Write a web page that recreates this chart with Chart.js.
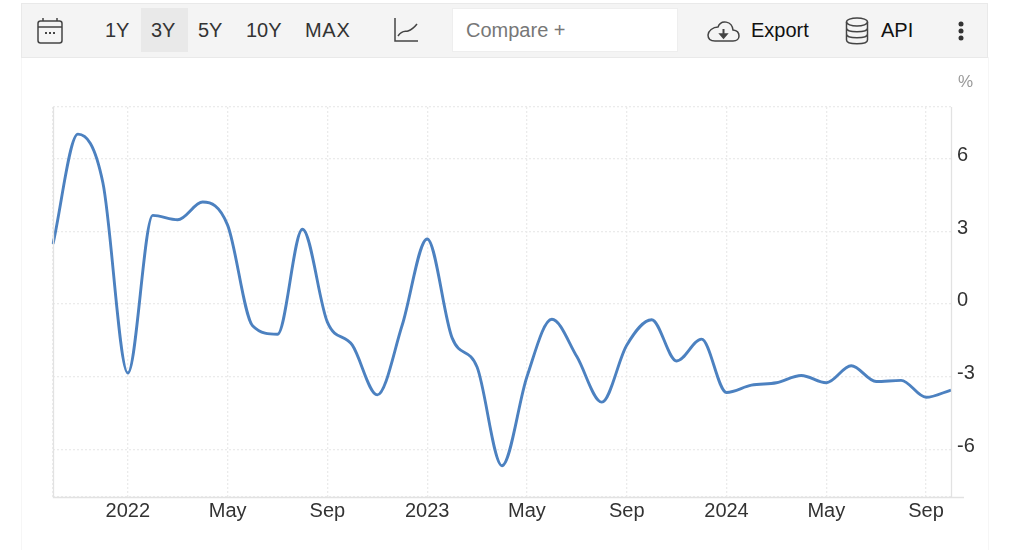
<!DOCTYPE html>
<html><head><meta charset="utf-8">
<script src="https://cdn.jsdelivr.net/npm/chart.js@4"></script>
<style>
html,body{margin:0;padding:0;background:#fff;width:1024px;height:550px;overflow:hidden;font-family:"Liberation Sans",Arial,sans-serif}
#c{position:absolute;left:0;top:0}
.frame{position:absolute;top:57px;height:493px;width:1px;background:#f6f6f6}
#bar{position:absolute;left:21px;top:3px;width:967px;height:55px;background:#f4f4f4;border:1px solid #e9e9e9;box-sizing:border-box}
.t{position:absolute;top:30px;transform:translateY(-50%);font-size:20px;color:#333;line-height:1;white-space:nowrap}
#sel{position:absolute;left:141px;top:8px;width:47px;height:44px;background:#e9e9e9}
#cmp{position:absolute;left:452px;top:8px;width:226px;height:44px;background:#fff;border:1px solid #eee;box-sizing:border-box}
svg{position:absolute;fill:none;stroke:#444;stroke-width:1.5}
#pct{position:absolute;left:958px;top:72px;font-size:17px;color:#999}
</style></head><body>
<canvas id="c" width="1024" height="550"></canvas>
<div class="frame" style="left:21px"></div><div class="frame" style="left:988px"></div>
<div id="bar"></div><div id="sel"></div><div id="cmp"></div>
<svg style="left:37px;top:17px" width="26" height="28" viewBox="0 0 26 28"><rect x="1" y="4" width="24" height="22" rx="2.5"/><path d="M1 10H25M6 1V4M20 1V4"/><path d="M8 16h2M12 16h2M16 16h2" stroke-width="2"/></svg>
<div class="t" style="left:105px">1Y</div><div class="t" style="left:151px">3Y</div><div class="t" style="left:198px">5Y</div><div class="t" style="left:246px">10Y</div><div class="t" style="left:305px;letter-spacing:.7px">MAX</div>
<svg style="left:394px;top:17px" width="26" height="26" viewBox="0 0 26 26"><path d="M1 1V24H24"/><path d="M4 19C8 13 11 15 14 14S19 12 23 7"/></svg>
<div class="t" style="left:466px;color:#777">Compare +</div>
<svg style="left:707px;top:19px" width="33" height="24" viewBox="0 0 33 24"><path d="M8 22H26C34 22 34 12 26 11C25 2 14 0 11 8C6 8 1 12 1 16S4 22 8 22Z"/><path d="M16.500 10V16" stroke-width="2"/><path d="M13 15H20L16.500 19Z" fill="#444"/></svg>
<div class="t" style="left:751px;color:#111">Export</div>
<svg style="left:845px;top:17px" width="24" height="28" viewBox="0 0 24 28"><ellipse cx="12" cy="5" rx="10.500" ry="4"/><path d="M1.500 5V23C1.500 28 22.500 28 22.500 23V5M1.500 11C1.500 16 22.500 16 22.500 11M1.500 17C1.500 22 22.500 22 22.500 17"/></svg>
<div class="t" style="left:881px;color:#111">API</div>
<svg style="left:956px;top:20px;stroke:none;fill:#333" width="10" height="22" viewBox="0 0 10 22"><circle cx="5" cy="4" r="2.500"/><circle cx="5" cy="11" r="2.500"/><circle cx="5" cy="18" r="2.500"/></svg>
<div id="pct">%</div>
<script>
const months = ["Oct 2021","Nov 2021","Dec 2021","Jan 2022","Feb 2022","Mar 2022","Apr 2022","May 2022","Jun 2022","Jul 2022","Aug 2022","Sep 2022","Oct 2022","Nov 2022","Dec 2022","Jan 2023","Feb 2023","Mar 2023","Apr 2023","May 2023","Jun 2023","Jul 2023","Aug 2023","Sep 2023","Oct 2023","Nov 2023","Dec 2023","Jan 2024","Feb 2024","Mar 2024","Apr 2024","May 2024","Jun 2024","Jul 2024","Aug 2024","Sep 2024","Oct 2024"];
const values = [2.47,7.0,5.0,-2.85,3.65,3.47,4.2,3.25,-0.9,-1.25,3.08,-0.75,-1.7,-3.75,-0.87,2.68,-1.4,-2.6,-6.67,-3.0,-0.63,-2.17,-4.05,-1.7,-0.65,-2.35,-1.45,-3.65,-3.35,-3.25,-2.95,-3.25,-2.55,-3.2,-3.15,-3.85,-3.55];
const xTickMonths = {"Jan 2022":"2022","May 2022":"May","Sep 2022":"Sep","Jan 2023":"2023","May 2023":"May","Sep 2023":"Sep","Jan 2024":"2024","May 2024":"May","Sep 2024":"Sep"};
const yTicks = [6,3,0,-3,-6];
const yMin = -7.96, yMax = 8.12;
const font = {family:'"Liberation Sans",Arial,sans-serif',size:20};
const grid = '#ebebeb';
new Chart(document.getElementById('c'),{
  type:'line',
  data:{labels:months,datasets:[{data:values,borderColor:'#4c81c0',borderWidth:2.9,pointRadius:0,cubicInterpolationMode:'monotone',fill:false}]},
  options:{
    responsive:false,animation:false,
    layout:{padding:{left:53,top:107,right:0,bottom:0}},
    plugins:{legend:{display:false},tooltip:{enabled:false}},
    scales:{
      x:{type:'category',offset:false,
        grid:{color:grid,lineWidth:1.3,drawTicks:false},
        border:{display:true,color:'#e2e2e2',dash:[2,2]},
        ticks:{autoSkip:false,maxRotation:0,padding:2,color:'#333',font,
          callback(v){return xTickMonths[this.getLabelForValue(v)]||'';}},
        afterBuildTicks(s){s.ticks=s.ticks.filter(t=>t.value===0||xTickMonths[months[t.value]]);},
        afterFit(s){s.height=53;}
      },
      y:{position:'right',min:yMin,max:yMax,
        grid:{color:grid,lineWidth:1.3,drawTicks:false},
        border:{display:true,color:'#e2e2e2',dash:[2,2]},
        ticks:{padding:6,labelOffset:-3,color:'#333',font,callback:v=>yTicks.includes(v)?String(v):''},
        afterBuildTicks(s){s.ticks=[yMin,...yTicks.slice().reverse(),yMax].map(value=>({value}));},
        afterFit(s){s.width=73;}
      }
    }
  },
  plugins:[{id:'axisLines',afterDatasetsDraw(ch){
    const a=ch.chartArea,x=ch.ctx;x.save();x.strokeStyle='#e2e2e2';x.lineWidth=1.3;x.beginPath();
    x.moveTo(a.left+.5,a.top);x.lineTo(a.left+.5,a.bottom+.5);x.lineTo(a.right+13,a.bottom+.5);
    x.moveTo(a.right+.5,a.top);x.lineTo(a.right+.5,a.bottom);x.stroke();x.restore();}}]
});
</script>
</body></html>
